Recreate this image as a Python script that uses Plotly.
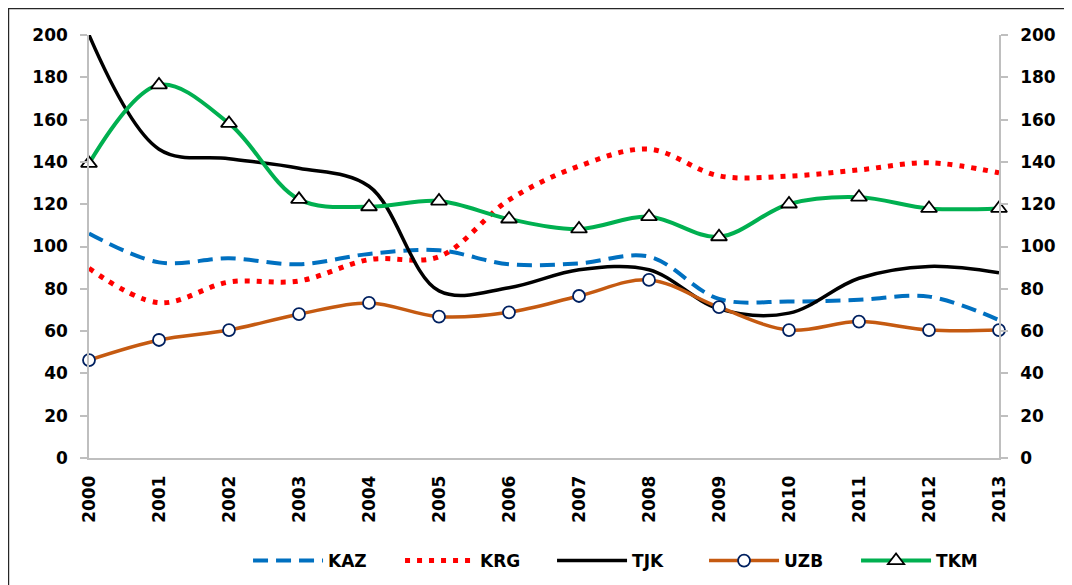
import plotly.graph_objects as go

years = [2000, 2001, 2002, 2003, 2004, 2005, 2006, 2007, 2008, 2009, 2010, 2011, 2012, 2013]
kaz = [106.2, 92.5, 94.4, 91.6, 96.5, 98.2, 91.6, 92.0, 95.2, 75.2, 74.0, 74.8, 76.3, 65.2]
krg = [89.7, 73.4, 83.2, 83.7, 93.8, 95.2, 122.0, 138.0, 146.0, 133.4, 133.3, 136.2, 139.6, 134.8]
tjk = [200.0, 146.0, 141.5, 137.0, 128.5, 79.0, 80.5, 89.0, 89.0, 70.5, 68.5, 85.0, 90.6, 87.6]
uzb = [46.3, 55.8, 60.5, 68.0, 73.3, 66.8, 68.9, 76.6, 84.2, 71.3, 60.5, 64.5, 60.5, 60.5]
tkm = [139.3, 176.4, 158.2, 122.3, 118.8, 121.5, 113.0, 108.3, 114.1, 104.6, 120.1, 123.3, 118.0, 118.0]
y_ticks = [0, 20, 40, 60, 80, 100, 120, 140, 160, 180, 200]

FONT = "DejaVu Sans"

fig = go.Figure()
fig.add_trace(go.Scatter(x=years, y=kaz, name="KAZ", mode="lines", cliponaxis=False,
                         line=dict(color="#0070C0", width=4, dash="15px,8px", shape="spline")))
fig.add_trace(go.Scatter(x=years, y=krg, name="KRG", mode="lines", cliponaxis=False,
                         line=dict(color="#FF0000", width=5, dash="5px,7px", shape="spline")))
fig.add_trace(go.Scatter(x=years, y=tjk, name="TJK", mode="lines", cliponaxis=False,
                         line=dict(color="#000000", width=3.5, shape="spline")))
fig.add_trace(go.Scatter(x=years, y=uzb, name="UZB", mode="lines+markers", cliponaxis=False,
                         line=dict(color="#C55A11", width=3.5, shape="spline"),
                         marker=dict(symbol="circle", size=12, color="white",
                                     line=dict(color="#002060", width=1.8))))
fig.add_trace(go.Scatter(x=years, y=tkm, name="TKM", mode="lines+markers", cliponaxis=False,
                         line=dict(color="#00B050", width=4, shape="spline"),
                         marker=dict(symbol="triangle-up", size=14, color="white",
                                     line=dict(color="#000000", width=1.8))))
# invisible trace to carry the secondary (right) axis
fig.add_trace(go.Scatter(x=years, y=tkm, yaxis="y2", mode="lines", showlegend=False,
                         hoverinfo="skip", line=dict(color="rgba(0,0,0,0)")))

tickfont = dict(family=FONT, size=17, color="#000000", weight="bold")
axis_common = dict(range=[0, 200], tickvals=y_ticks, showgrid=False, zeroline=False,
                   showline=True, linecolor="#BFBFBF", linewidth=1.5,
                   ticks="outside", ticklen=7, tickcolor="#BFBFBF", tickwidth=1.5,
                   tickfont=tickfont, automargin=False, ticklabelstandoff=9)

fig.update_layout(
    width=1064, height=577,
    margin=dict(l=81, r=73, t=27, b=127),
    paper_bgcolor="white", plot_bgcolor="white",
    xaxis=dict(range=[2000, 2013], tickvals=years, ticktext=[str(y) for y in years],
               tickangle=-90, showgrid=False, zeroline=False, showline=True,
               linecolor="#BFBFBF", linewidth=1.5, ticks="", automargin=False,
               tickfont=tickfont, ticklabelstandoff=9),
    yaxis=dict(**axis_common),
    yaxis2=dict(overlaying="y", side="right", **axis_common),
    showlegend=True,
    legend=dict(orientation="h", xref="container", yref="container",
                x=0.2256, xanchor="left", y=0.0416, yanchor="middle",
                font=dict(family=FONT, size=17, color="#000000", weight="bold"),
                itemwidth=70, entrywidth=67, entrywidthmode="pixels",
                bgcolor="rgba(0,0,0,0)"),
    shapes=[
        dict(type="line", xref="paper", yref="paper", x0=-0.0885, x1=-0.0885, y0=1.0638, y1=-0.4,
             line=dict(color="#262626", width=1.5)),
        dict(type="line", xref="paper", yref="paper", x0=-0.0885, x1=1.09, y0=1.0626, y1=1.0626,
             line=dict(color="#262626", width=1.5)),
    ],
)

fig.write_html("out.html")
